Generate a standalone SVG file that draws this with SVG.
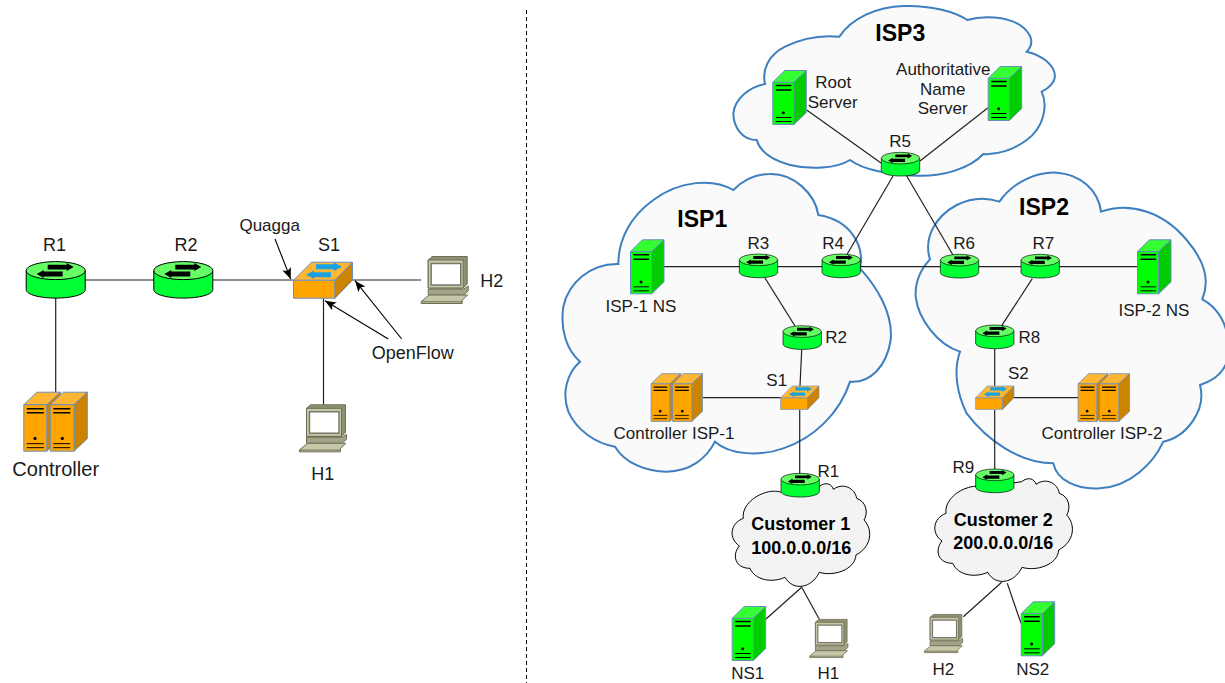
<svg xmlns="http://www.w3.org/2000/svg" width="1225" height="683" viewBox="0 0 1225 683">
<style>
text{font-family:"Liberation Sans",Arial,sans-serif;font-size:17px;fill:#1a1a1a;text-anchor:middle}
.lg{font-size:18px}
.b{font-weight:bold;font-size:23px;fill:#000}
.c{font-weight:bold;font-size:18px;fill:#000}
.isp{fill:#fafafa;stroke:#3d7fbf;stroke-width:6}
.cust{fill:#f3f3f3;stroke:#000;stroke-width:3}
#connectors line{stroke:#222;stroke-width:1.2;fill:none}
#connectors line.a{stroke:#000;stroke-width:1.1;marker-end:url(#ah)}
#divider{stroke:#000;stroke-width:1;stroke-dasharray:4 3}
.blk{fill:#000;stroke:none}
</style>
<defs>
<marker id="ah" markerUnits="userSpaceOnUse" markerWidth="12" markerHeight="10" refX="11" refY="4.5" orient="auto"><path d="M0 0L11 4.5L0 9L2.5 4.5Z" fill="#000"/></marker>
<g id="router">
<path d="M.5 9V28C.5 33 14 36.5 30 36.5S59.5 33 59.5 28V9Z" fill="#00ff33" stroke="#000" stroke-width="1"/>
<ellipse cx="30" cy="9" rx="29.5" ry="9" fill="#66ff66" stroke="#000" stroke-width="1"/>
<path class="blk" d="M22 3.2H41V1.5L48 5.5L41 9.5V7.8H22Z"/>
<path class="blk" d="M37 10H18V8.5L11 12.5L18 16.5V15H37Z"/>
</g>
<g id="switch" stroke="#6c8ebf" stroke-width="1">
<path d="M.5 18.5H42V36.5H.5Z" fill="#ffa500"/>
<path d="M.5 18.5L18.5 .5H59.5L42 18.5Z" fill="#ffb733"/>
<path d="M42 18.5L59.5 .5V18.5L42 36.5Z" fill="#cc8400"/>
<path fill="#1ba1e2" stroke="none" d="M23 2.5H41V.8L49 5L41 9.2V7.5H23Z"/>
<path fill="#1ba1e2" stroke="none" d="M38 10.5H21V8.8L13 13L21 17.2V15.5H38Z"/>
</g>
<g id="server" stroke="#6c8ebf" stroke-width="1">
<path d="M.5 12.3H21.7V54.5H.5Z" fill="#00ff00"/>
<path d="M.5 12.3L12.5 .5H34L21.7 12.3Z" fill="#33ff33"/>
<path d="M21.7 12.3L34 .5V42.5L21.7 54.5Z" fill="#00cc00"/>
<path d="M3.5 15.5H19M3.5 20H19" stroke="#000" stroke-width="1.4" fill="none"/>
<path d="M3.5 47.5H19M3.5 51.5H19" stroke="#000" stroke-width="1" fill="none"/>
<circle class="blk" cx="11" cy="42.7" r="1.5"/>
</g>
<g id="dual" stroke="#6c8ebf" stroke-width="1">
<path d="M.5 13L13.5 .5H37.5L24 13Z" fill="#ffb733"/>
<path d="M23.5 13L37 .5V47.5L23.5 59.5Z" fill="#cc8400"/>
<path d="M.5 13H23.5V59.5H.5Z" fill="#ffa500"/>
<path d="M27 13L40 .5H64L50.7 13Z" fill="#ffb733"/>
<path d="M50.7 13L64 .5V47L50.7 59.5Z" fill="#cc8400"/>
<path d="M27 13H50.7V59.5H27Z" fill="#ffa500"/>
<path d="M3.5 17H20.5M3.5 21H20.5M30 17H47M30 21H47" stroke="#000" stroke-width="1.5" fill="none"/>
<path d="M3.5 52H20.5M3.5 56H20.5M30 52H47M30 56H47" stroke="#000" stroke-width="1" fill="none"/>
<circle class="blk" cx="11.7" cy="46.7" r="1.6"/>
<circle class="blk" cx="39" cy="46.7" r="1.6"/>
</g>
<g id="laptop" stroke="#6e6e55" stroke-width="1">
<path d="M7.5 4L11.5 .5H46.5V28L42.5 32H7.5Z" fill="#8f8f74"/>
<path d="M7.5 4H42.5V32H7.5Z" fill="#c7c7a9"/>
<path d="M10.5 7.5H40V29H10.5Z" fill="#fff" stroke="#77776a" stroke-width="1.4"/>
<path d="M7.5 33H43L47.5 30V35L43 39H7.5Z" fill="#a3a388"/>
<path d="M.5 47.5V45.5L8.5 39H47L41.5 44V47.5Z" fill="#c7c7a9"/>
<path d="M.5 45.8H41.5" fill="none"/>
</g>
<path id="custcloud" d="M130 175C125 140 160 110 190 100C210 92 230 92 245 97L357 80C375 65 395 70 400 88C430 66 465 85 470 115C500 125 505 160 492 180C520 210 515 260 468 285C465 330 400 350 358 337C335 385 280 395 255 352C215 370 165 360 150 325C105 325 95 285 118 258C85 235 90 190 130 175Z"/>
</defs>

<g id="cloud-isp3" transform="translate(730 0) scale(.33333)"><path class="isp" d="M105 252C95 210 115 165 165 140C215 115 275 105 328 110C365 55 440 20 520 18C600 15 675 35 712 60C760 45 830 50 870 75C905 100 915 130 890 155C935 165 975 195 975 230C973 250 955 265 935 275C955 320 940 385 890 420C850 450 800 465 760 462C720 505 640 530 560 527C480 525 400 510 360 480C320 505 240 510 180 495C125 480 90 455 80 420C40 420 10 385 10 340C15 295 60 260 105 252Z"/></g>
<g id="cloud-isp1" transform="translate(550 170) scale(.33333)"><path class="isp" d="M205 282C120 280 55 340 40 410C30 480 50 540 90 575C50 610 35 670 55 725C80 780 135 820 195 830C225 880 290 905 350 905C420 905 470 865 495 815C540 855 630 860 700 835C790 805 870 730 900 635C960 640 1010 590 1022 510C1030 430 980 350 930 295C945 225 900 150 805 135C795 70 730 10 660 12C620 12 580 30 550 60C490 25 390 30 310 90C240 140 205 210 205 282Z"/></g>
<g id="cloud-isp2" transform="translate(900 170) scale(.33333)"><path class="isp" d="M90 268C70 205 105 140 170 105C210 85 255 80 298 95C340 35 410 5 470 8C540 12 595 60 603 125C690 95 790 125 860 210C915 275 930 330 907 388C950 410 985 460 985 530C990 590 960 625 900 645C920 720 860 800 790 815C760 880 690 950 600 955C530 960 470 930 460 880C360 880 260 810 200 730C170 670 160 600 180 545C115 525 55 450 47 380C45 340 60 300 90 268Z"/></g>
<g id="cloud-customer1" transform="translate(700 460) scale(.33333)"><use href="#custcloud" class="cust"/></g>
<g id="cloud-customer2" transform="translate(902.7 455) scale(.33333)"><use href="#custcloud" class="cust"/></g>

<line id="divider" x1="526.5" y1="10" x2="526.5" y2="683"/>

<g id="connectors">
<line x1="85" y1="280" x2="154" y2="280"/>
<line x1="213" y1="280" x2="293" y2="280"/>
<line x1="353" y1="280" x2="421" y2="280"/>
<line x1="323.5" y1="298" x2="323.5" y2="405"/>
<line x1="55.7" y1="298" x2="55.7" y2="392"/>
<line class="a" x1="275" y1="239" x2="290.7" y2="279"/>
<line class="a" x1="388.3" y1="339" x2="325" y2="300.7"/>
<line class="a" x1="401.7" y1="339" x2="355" y2="280.7"/>
<line x1="806.7" y1="110" x2="881" y2="163"/>
<line x1="988" y1="107.7" x2="920" y2="161"/>
<line x1="893" y1="176" x2="846.7" y2="255"/>
<line x1="906.7" y1="176" x2="953" y2="255"/>
<line x1="664" y1="266.7" x2="1137" y2="266.7"/>
<line x1="765" y1="278" x2="795" y2="326"/>
<line x1="801.7" y1="350" x2="800" y2="386"/>
<line x1="703" y1="397.7" x2="781" y2="397.7"/>
<line x1="799.7" y1="410" x2="799.7" y2="474"/>
<line x1="1032.3" y1="278.7" x2="1001.7" y2="325.7"/>
<line x1="994.7" y1="349" x2="994.7" y2="386"/>
<line x1="1014" y1="397.7" x2="1078" y2="397.7"/>
<line x1="994.7" y1="410" x2="994.7" y2="469"/>
<line x1="801.7" y1="587.3" x2="765.7" y2="619.3"/>
<line x1="801.7" y1="587.3" x2="819.3" y2="619.3"/>
<line x1="1001.7" y1="582.3" x2="963.3" y2="616.7"/>
<line x1="1007.3" y1="583.3" x2="1021" y2="623.3"/>
</g>

<g id="left-R1"><use href="#router" transform="translate(25.7 261.6)"/><text class="lg" x="54.5" y="251">R1</text></g>
<g id="left-R2"><use href="#router" transform="translate(153.3 261.6)"/><text class="lg" x="186" y="251">R2</text></g>
<g id="left-S1"><use href="#switch" transform="translate(293 261.7)"/><text class="lg" x="329" y="250.7">S1</text></g>
<g id="left-H1"><use href="#laptop" transform="translate(299 404.3)"/><text class="lg" x="322.7" y="480">H1</text></g>
<g id="left-H2"><use href="#laptop" transform="translate(420.7 256)"/><text class="lg" x="491.7" y="286.7">H2</text></g>
<g id="left-controller"><use href="#dual" transform="translate(23.3 391.7)"/><text style="font-size:20px" x="55.7" y="475.7">Controller</text></g>
<text id="label-quagga" x="269.7" y="230.7">Quagga</text>
<text id="label-openflow" class="lg" x="412.7" y="359">OpenFlow</text>

<g id="root-server"><use href="#server" transform="translate(772.3 70)"/><text x="833.3" y="88">Root</text><text x="832.7" y="108">Server</text></g>
<g id="auth-server"><use href="#server" transform="translate(987.7 66)"/><text x="943.3" y="74.7">Authoritative</text><text x="942.7" y="95">Name</text><text x="942.7" y="114.3">Server</text></g>
<g id="isp1-ns"><use href="#server" transform="translate(630 239.3)"/><text x="641" y="312">ISP-1 NS</text></g>
<g id="isp2-ns"><use href="#server" transform="translate(1137 239.3)"/><text x="1154" y="315.7">ISP-2 NS</text></g>
<g id="ns1"><use href="#server" transform="translate(731.7 606)"/><text x="747.7" y="679">NS1</text></g>
<g id="ns2"><use href="#server" transform="translate(1020.7 601.3)"/><text x="1032.7" y="675">NS2</text></g>
<g id="h1"><use href="#laptop" transform="translate(809.3 619) scale(.8125)"/><text x="828.3" y="679">H1</text></g>
<g id="h2"><use href="#laptop" transform="translate(924 614) scale(.8125)"/><text x="943.3" y="675">H2</text></g>
<g id="controller-isp1"><use href="#dual" transform="translate(650.7 373.3) scale(.81)"/><text x="674" y="439.3">Controller ISP-1</text></g>
<g id="controller-isp2"><use href="#dual" transform="translate(1077.7 373.3) scale(.81)"/><text x="1102" y="439.3">Controller ISP-2</text></g>
<g id="s1"><use href="#switch" transform="translate(780.3 385.7) scale(.65)"/><text x="776.7" y="386">S1</text></g>
<g id="s2"><use href="#switch" transform="translate(975.3 385.7) scale(.65)"/><text x="1018.3" y="379.3">S2</text></g>
<g id="r1"><use href="#router" transform="translate(780.7 473.3) scale(.65)"/><text x="828.3" y="477.3">R1</text></g>
<g id="r2"><use href="#router" transform="translate(782.7 325.7) scale(.65)"/><text x="836" y="342.7">R2</text></g>
<g id="r3"><use href="#router" transform="translate(739 254) scale(.65)"/><text x="758.3" y="248.7">R3</text></g>
<g id="r4"><use href="#router" transform="translate(821.7 254) scale(.65)"/><text x="833" y="248.7">R4</text></g>
<g id="r5"><use href="#router" transform="translate(881 152.3) scale(.65)"/><text x="900" y="147">R5</text></g>
<g id="r6"><use href="#router" transform="translate(940 254.3) scale(.65)"/><text x="964" y="248.7">R6</text></g>
<g id="r7"><use href="#router" transform="translate(1020.7 254.3) scale(.65)"/><text x="1043.3" y="248.7">R7</text></g>
<g id="r8"><use href="#router" transform="translate(975.3 325) scale(.65)"/><text x="1029.3" y="342.7">R8</text></g>
<g id="r9"><use href="#router" transform="translate(975.3 469) scale(.65)"/><text x="963.3" y="472.7">R9</text></g>

<text class="b" x="900.3" y="40.7">ISP3</text>
<text class="b" x="702.3" y="226.7">ISP1</text>
<text class="b" x="1044" y="215.3">ISP2</text>
<text class="c" x="800.7" y="530">Customer 1</text>
<text class="c" x="801.3" y="554">100.0.0.0/16</text>
<text class="c" x="1003.3" y="525.7">Customer 2</text>
<text class="c" x="1003.3" y="548.7">200.0.0.0/16</text>
</svg>
